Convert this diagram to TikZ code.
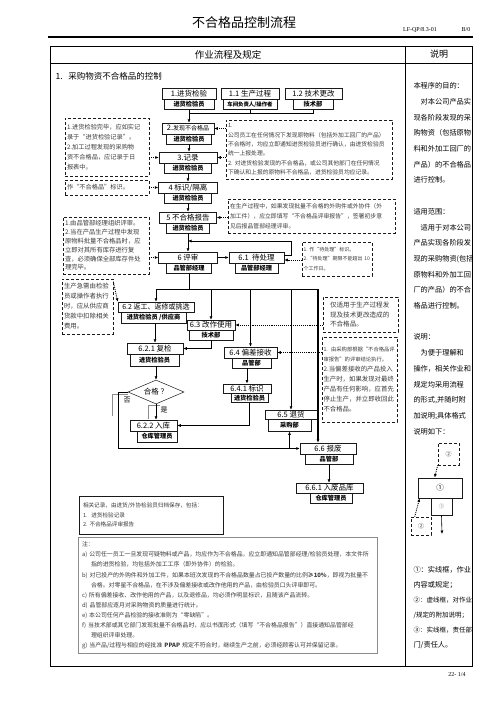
\documentclass[tikz,border=0pt]{standalone}
\usepackage{fontspec}
\setmainfont{Noto Sans CJK SC}
\newfontfamily\docfont{Liberation Serif}
\usepackage{xcolor}
\usepackage{tikz}
\usetikzlibrary{shapes.geometric, arrows.meta, positioning, calc}
\definecolor{ncqline}{HTML}{1A1A1A}
\definecolor{ncqtext}{HTML}{3A3A3A}
\definecolor{ncqframe}{HTML}{8C8C8C}
\newcommand{\fsz}[2]{\fontsize{#1}{#2}\selectfont}

\begin{document}
\begin{tikzpicture}[x=1pt,y=-1pt,font=\fsz{7.5}{9},
  >={Latex[length=3.5pt,width=3pt]},
  stage/.style={draw=ncqline,line width=0.5pt,minimum height=11pt,inner sep=0pt,font=\fsz{7.5}{9}},
  duty/.style={draw=ncqline,line width=0.9pt,minimum height=10pt,inner sep=0pt,font=\fsz{6.2}{7}\bfseries},
  remark/.style={draw=ncqline,densely dashed,line width=0.6pt,inner sep=2pt,align=left,text=ncqtext},
  link/.style={->,line width=0.6pt},
  hint/.style={->,densely dotted,line width=0.9pt}]
        \fill[white] (0,0) rectangle (496,702);
        \useasboundingbox (0,0) rectangle (496,702);
        % page head
        \node (title) at (244,23) {\fsz{13}{15}不合格品控制流程};
        \node[font=\docfont\fsz{6}{7}] (docno) at (420,30) {LF-QP/8.3-01};
        \node[font=\docfont\fsz{6}{7}] (rev) at (466,30) {B/0};
        \draw[line width=2.6pt] (48,37) -- (473,37);
        % table
        \draw[line width=0.6pt] (50,46) rectangle (472,666);
        \draw[line width=0.6pt] (50,63) -- (472,63);
        \draw[line width=0.6pt] (405,46) -- (405,666);
        \node (hdl) at (228,54.5) {\fsz{9.5}{11}作业流程及规定};
        \node (hdr) at (439,54.5) {\fsz{9}{11}说明};
        \node[anchor=west,font=\fsz{8.5}{10}] (sec) at (52,76) {1.\ \ \ 采购物资不合格品的控制};
        % steps 1, 1.1, 1.2
        \node[stage,minimum width=54] (b1) at (189,94) {1.进货检验};
        \node[duty,minimum width=50] (s1) at (189,104.5) {进货检验员};
        \node[stage,minimum width=58] (b11) at (250,94) {1.1 生产过程};
        \node[duty,minimum width=54,font=\fsz{5.4}{6}\bfseries] (s11) at (250,104.5) {车间负责人/操作者};
        \node[stage,minimum width=57] (b12) at (313.5,94) {1.2 技术更改};
        \node[duty,minimum width=40] (s12) at (313,104.5) {技术部};
        % steps 2 to 6.1
        \node[stage,minimum width=52] (b2) at (188,128.5) {2.{\fsz{6}{7}发现不合格品}};
        \node[duty,minimum width=45] (s2) at (189,139) {进货检验员};
        \node[stage,minimum width=58] (b3) at (188,157.5) {3.记录};
        \node[duty,minimum width=47] (s3) at (188,168) {进货检验员};
        \node[stage,minimum width=59] (b4) at (188,187.5) {4 标识/隔离};
        \node[duty,minimum width=47] (s4) at (188,198) {进货检验员};
        \node[stage,minimum width=57] (b5) at (188,217.5) {5 不合格报告};
        \node[duty,minimum width=43] (s5) at (188,228) {进货检验员};
        \node[stage,minimum width=59] (b6) at (188,257.5) {6 评审};
        \node[duty,minimum width=45] (s6) at (189,268) {品管部经理};
        \node[stage,minimum width=55] (b61) at (256.5,258) {6.1\ \ 待处理};
        \node[duty,minimum width=43] (s61) at (256.5,268.5) {品管部经理};
        % steps 6.2 to 6.6
        \node[stage,minimum width=76,minimum height=10,font=\fsz{7}{8}] (b62) at (156,307) {6.2\ 返工、返修或挑选};
        \node[duty,minimum width=65,minimum height=11] (s62) at (153.5,317.5) {进货检验员 /供应商};
        \node[stage,minimum width=48,minimum height=10] (b63) at (211,325) {6.3 改作使用};
        \node[duty,minimum width=44] (s63) at (211,335) {技术部};
        \node[stage,minimum width=56] (b621) at (155,348.5) {6.2.1 复检};
        \node[duty,minimum width=49,minimum height=12] (s621) at (154.5,360) {进货检验员};
        \node[diamond,draw=ncqline,line width=0.5pt,minimum width=56,minimum height=24,inner sep=0pt,aspect=2.3] (ok) at (156,392) {合格\ ？};
        \node[stage,minimum width=47] (b622) at (153.5,425.5) {6.2.2 入库};
        \node[duty,minimum width=40,minimum height=11] (s622) at (157,436.5) {仓库管理员};
        \node[stage,minimum width=53] (b64) at (250.5,352.5) {6.4 偏差接收};
        \node[duty,minimum width=39] (s64) at (251.5,363) {品管部};
        \node[stage,minimum width=48,minimum height=9.5] (b641) at (247,388.5) {6.4.1 标识};
        \node[duty,minimum width=37,minimum height=9.5] (s641) at (249.5,398) {进货检验员};
        \node[stage,minimum width=52,minimum height=9] (b65) at (291,414.5) {6.5 退货};
        \node[duty,minimum width=43,minimum height=12] (s65) at (289.5,425) {采购部};
        \node[stage,minimum width=56] (b66) at (328,448.5) {6.6 报废};
        \node[duty,minimum width=48] (s66) at (329,459) {品管部};
        \node[stage,minimum width=67,minimum height=10] (b661) at (329.5,488) {6.6.1 入废品库};
        \node[duty,minimum width=42] (s661) at (331,498) {仓库管理员};
        \node[font=\fsz{7}{8}] (no) at (127,400) {否};
        \node[font=\fsz{7}{8}] (yes) at (164,410) {是};
        \draw[ncqframe,line width=0.4pt] (112,416) -- (112,394) -- (128,394);
        \draw[ncqframe,line width=0.4pt] (148,419) -- (148,405) -- (160,405);
        % dashed remarks
        \node[remark,text width=80,minimum height=58,font=\fsz{6.2}{10}] (nA) at (107,147) {1.进货检验完毕，应如实记\\录于“进货检验记录”。\\2.加工过程发现的采购物\\资不合格品，应记录于日\\报表中。};
        \node[remark,text width=80,minimum height=15,font=\fsz{6.2}{8}] (nB) at (107,187.5) {作“不合格品”标识。};
        \node[remark,text width=82,minimum height=57,font=\fsz{6.3}{8.8}] (nC) at (106,245.5) {1.由品管部经理组织评审。\\2.当在产品生产过程中发现\\原物料批量不合格品时，应\\立即对其所有库存进行复\\查，必须确保全部库存件处\\理完毕。};
        \node[remark,text width=47,minimum height=55,font=\fsz{6.4}{10}] (nD) at (87.5,306.5) {生产急需由检验\\员或操作者执行\\时，应从供应商\\货款中扣除相关\\费用。};
        \node[remark,text width=162,minimum height=59,font=\fsz{5.8}{9.4}] (nE) at (309,149.5) {1.\ 公司员工在任何情况下发现原物料（包括外加工回厂的产品）\\不合格时，均应立即通知进货检验员进行确认，由进货检验员\\统一上报处理。\\2.\ 对进货检验发现的不合格品，或公司其他部门在任何情况\\下确认和上报的原物料不合格品，进货检验员均应记录。};
        \node[remark,text width=163,minimum height=34,font=\fsz{5.85}{10}] (nF) at (311.5,216) {在生产过程中，如果发现批量不合格的外购件或外协件（外\\加工件），应立即填写“不合格品评审报告”，签署初步意\\见后报品管部经理评审。};
        \node[remark,text width=67,inner xsep=1.5pt,minimum height=34,font=\fsz{5}{9.5}] (nG) at (337,259) {1.\ 作“待处理”标识。\\\mbox{2.“待处理”期限不能超出 10}\\个工作日。};
        \node[remark,text width=61,inner xsep=7pt,minimum height=35,font=\fsz{6.6}{9.5}] (nH) at (360.5,314.5) {仅适用于生产过程发\\现及技术更改造成的\\不合格品。};
        \node[remark,text width=72,inner xsep=1.5pt,minimum height=85,font=\fsz{6.4}{10}] (nI) at (359.5,379.5) {{\fsz{5.3}{10}1. 由采购部根据“不合格品评}\\{\fsz{5.3}{10}审报告”的评审结论执行。}\\2.当偏差接收的产品投入\\生产时，如果发现对最终\\产品有任何影响，应首先\\停止生产，并立即收回此\\不合格品。};
        % records and notes
        \node[draw=ncqline,line width=0.9pt,text width=136,minimum height=38,inner sep=4pt,align=left,font=\fsz{5.6}{9.5},text=ncqtext] (rec) at (151,515) {相关记录，由进货/外协检验员归档保存，包括：\\1.\ \ 进货检验记录\\2.\ 不合格品评审报告};
        \node[draw=ncqframe,line width=0.9pt,text width=291,minimum height=115,inner sep=4pt,align=left,font=\fsz{5.9}{10.1},text=ncqtext] (nts) at (227.5,595.5) {注：\\a)\ 公司任一员工一旦发现可疑物料或产品，均应作为不合格品，应立即通知品管部经理/检验员处理，本文件所\\\hspace*{9pt}指的进货检验，均包括外加工工序（即外协件）的检验。\\b)\ 对已投产的外购件和外加工件，如果本班次发现的不合格品数量占已投产数量的比例\textbf{≥10\%}，即视为批量不\\\hspace*{9pt}合格。对零星不合格品，在不涉及偏差接收或改作他用的产品，由检验员口头评审即可。\\c)\ 所有偏差接收、改作他用的产品，以及退修品，均必须作明显标识，且随该产品流转。\\d)\ 品管部应逐月对采购物资的质量进行统计。\\e)\ 本公司任何产品检验的接收准则为“零缺陷”。\\f)\ 当技术部或其它部门发现批量不合格品时，应以书面形式（填写“不合格品报告”）直接通知品管部经\\\hspace*{9pt}理组织评审处理。\\g)\ 当产品/过程与相应的经批准 \textbf{PPAP} 规定不符合时，继续生产之前，必须经顾客认可并保留记录。};
        % right column
        \foreach \k/\txt in {0/本程序的目的：,1/{\quad 对本公司产品实},2/现各阶段发现的采,3/购物资（包括原物,4/料和外加工回厂的,5/产品）的不合格品,6/进行控制。,8/适用范围：,9/{\quad 适用于对本公司},10/产品实现各阶段发,11/现的采购物资(包括,12/原物料和外加工回,13/厂的产品）的不合,14/格品进行控制。,16/说明：,17/{\quad 为便于理解和},18/操作，相关作业和,19/规定均采用流程,20/{的形式,并随时附},21/加说明;具体格式,22/说明如下：} {
          \node[anchor=west,font=\fsz{7.2}{8}] (why\k) at (410,{86+15.7*\k}) {\txt};
        }
        % legend
        \node[remark,minimum width=21,minimum height=22,inner sep=0pt,font=\fsz{6}{7}] (lg2a) at (448.5,454) {②};
        \node[stage,line width=0.8pt,minimum width=44,minimum height=20] (lg1) at (440,488) {①};
        \node[draw=ncqline,line width=0.5pt,minimum width=21,minimum height=17,inner sep=0pt,font=\fsz{5.5}{6},text=ncqframe] (lg3) at (441.5,506.5) {③};
        \node[remark,minimum width=20,minimum height=18,inner sep=0pt,font=\fsz{6}{7}] (lg2b) at (421,526) {②};
        \coordinate (lgend) at (442,534);
        \draw[hint] (lg2a.south west) -- ([xshift=17pt]lg1.north west);
        \draw[hint] ([xshift=4pt]lg2b.north west) -- ([xshift=2pt]lg1.south west);
        \draw[link] (lg3.south) -- (lgend);
        \node[anchor=west,font=\fsz{7.2}{8}] (key1) at (410,570) {①：实线框，作业};
        \node[anchor=west,font=\fsz{7.2}{8}] (key2) at (410,585) {内容或规定；};
        \node[anchor=west,font=\fsz{6.5}{8}] (key3) at (410,600) {②：虚线框，对作业};
        \node[anchor=west,font=\fsz{6.5}{8}] (key4) at (410,615) {/规定的附加说明；};
        \node[anchor=west,font=\fsz{6.5}{8}] (key5) at (410,630) {③：实线框，责任部};
        \node[anchor=west,font=\fsz{7.2}{8}] (key6) at (410,645) {门/责任人。};
        \node[font=\docfont\fsz{6}{7}] (pg) at (457,675) {22- 1/4};
        % flow lines
        \coordinate (jn) at (189,113);
        \draw[line width=0.6pt] (s11.south) |- (jn);
        \draw[line width=0.6pt] (s12.south) |- (jn);
        \draw[link] (s1.south) -- (s1.south |- b2.north);
        \foreach \u/\v in {s2/b3,s3/b4,s4/b5,s5/b6} {
          \draw[link] (\u.south) -- (\u.south |- \v.north);
        }
        \coordinate (fb) at (188,241);
        \draw[link] (b6.east) -- (b6.east -| b61.west);
        \draw[link] ([yshift=3pt]b61.east) -- ++(7,0) |- (fb);
        \coordinate (split) at (189,289);
        \coordinate (d66) at (318,289);
        \draw[line width=0.6pt] (s6.south) -- (split);
        \draw[line width=0.6pt] (split -| b62.north) -- (d66);
        \foreach \n in {b62,b63,b64,b65} {
          \draw[link] (split -| \n.north) -- (\n.north);
        }
        \draw[->,line width=1.3pt] (d66) -- (d66 |- b66.north);
        \draw[link] (s62.south -| b621.north) -- (b621.north);
        \draw[link] (s63.south) |- (b621.east);
        \draw[link] (s621.south -| ok.north) -- (ok.north);
        \draw[link] (ok.south) -- (ok.south |- b622.north);
        \draw[link] (ok.west) -- ++(-9,0) |- (b66.west);
        \draw[link] (s65.south |- b66.west) -- (s65.south);
        \draw[link] (s64.south -| b641.north) -- (b641.north);
        \draw[link] (s641.south) |- (b622.east);
        \draw[link] (s66.south) -- (s66.south |- b661.north);
        % remark pointers
        \draw[hint] (nA.east |- b3.west) -- (b3.west);
        \draw[hint] (nB.east |- b4.west) -- (b4.west);
        \draw[hint] (nC.east |- b6.west) -- (b6.west);
        \draw[hint] ([yshift=-3pt]nD.north east) -- (b62.north west);
        \draw[hint] (nE.west |- b2.east) -- (b2.east);
        \draw[hint] (nE.west |- b3.east) -- (b3.east);
        \draw[hint] (nF.west |- b5.east) -- (b5.east);
        \draw[hint] ([yshift=-2pt]b61.east -| nG.west) -- ([yshift=-2pt]b61.east);
        \draw[hint] (nH.west |- b63.east) -- (b63.east);
        \draw[hint] (nI.west |- b64.east) -- (b64.east);
\end{tikzpicture}
\end{document}
